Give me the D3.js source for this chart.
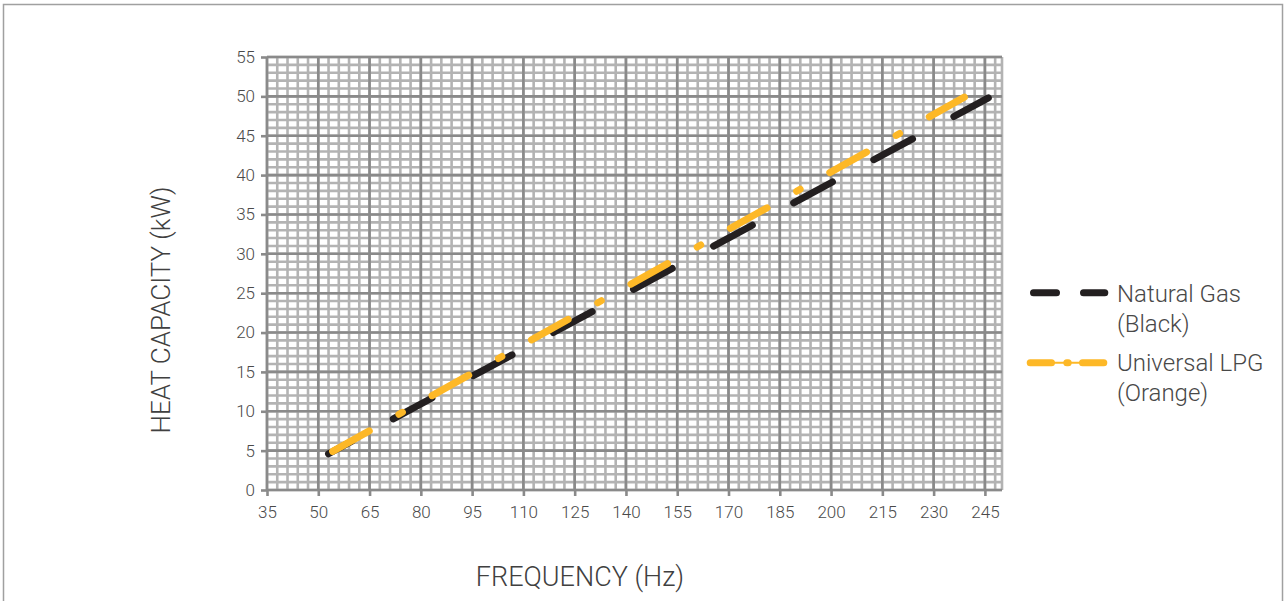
<!DOCTYPE html>
<html>
<head>
<meta charset="utf-8">
<script src="https://cdn.jsdelivr.net/npm/d3@7"></script>
<style>
  body { margin: 0; background: #fff; }
  text { font-family: Roboto, 'Noto Sans', sans-serif; }
</style>
</head>
<body>
<svg id="chart" width="1286" height="601"></svg>
<script>
// tick labels
const freqTicks = [35, 50, 65, 80, 95, 110, 125, 140, 155, 170, 185, 200, 215, 230, 245]
const capTicks = [0, 5, 10, 15, 20, 25, 30, 35, 40, 45, 50, 55]

// series (frequency Hz -> heat capacity kW)
const seriesNames = ['Natural Gas', 'Universal LPG']
const seriesNotes = ['(Black)', '(Orange)']
const gasFreq = [53, 246]
const gasCap = [4.6, 49.8]
const lpgFreq = [54.2, 239]
const lpgCap = [4.9, 49.9]

let svg = d3.select('#chart')
let plotLeft = 267, plotRight = 1002, plotTop = 57, plotBottom = 490

let xScale = d3.scaleLinear().domain([35, 250]).range([plotLeft, plotRight])
let yScale = d3.scaleLinear().domain([0, 55]).range([plotBottom, plotTop])

//outer frame
svg.append('rect')
    .attr('x', 3.5).attr('y', 4.5)
    .attr('width', 1279).attr('height', 640)
    .attr('fill', 'none')
    .attr('stroke', '#a0a0a0')
    .attr('stroke-width', 1.5)

//grid: minor lines first, major on top
let grid = svg.append('g')
let minorX = d3.range(35, 250, 3).concat([250])
let minorY = d3.range(0, 56, 1)

grid.selectAll('.vminor').data(minorX).enter().append('line')
    .attr('x1', d => xScale(d)).attr('x2', d => xScale(d))
    .attr('y1', yScale(0)).attr('y2', yScale(55))
    .attr('stroke', '#b3b3b3').attr('stroke-width', 2.6)
grid.selectAll('.hminor').data(minorY).enter().append('line')
    .attr('y1', d => yScale(d)).attr('y2', d => yScale(d))
    .attr('x1', xScale(35)).attr('x2', xScale(250))
    .attr('stroke', '#b3b3b3').attr('stroke-width', 2.6)
grid.selectAll('.vmajor').data(freqTicks).enter().append('line')
    .attr('x1', d => xScale(d)).attr('x2', d => xScale(d))
    .attr('y1', yScale(0)).attr('y2', yScale(55))
    .attr('stroke', '#8a8a8a').attr('stroke-width', 2.6)
grid.selectAll('.hmajor').data(capTicks).enter().append('line')
    .attr('y1', d => yScale(d)).attr('y2', d => yScale(d))
    .attr('x1', xScale(35)).attr('x2', xScale(250))
    .attr('stroke', '#8a8a8a').attr('stroke-width', 2.6)

//axes
let yAxis = d3.axisLeft(yScale).tickValues(capTicks).tickSize(6).tickPadding(6)
svg.append('g').attr('transform', `translate(${plotLeft},0)`).call(yAxis)
let xAxis = d3.axisBottom(xScale).tickValues(freqTicks).tickSize(6).tickPadding(10)
svg.append('g').attr('transform', `translate(0,${plotBottom})`).call(xAxis)

svg.selectAll('.domain').remove()
svg.selectAll('.tick line').attr('stroke', '#8a8a8a').attr('stroke-width', 2.6)
svg.selectAll('.tick text')
    .attr('fill', '#4a4a4a')
    .style('font-size', '17px')
    .style('font-weight', 300)

//axis titles
svg.append('text')
    .attr('x', 580).attr('y', 586)
    .attr('text-anchor', 'middle')
    .attr('fill', '#404040')
    .style('font-size', '27px').style('font-weight', 300)
    .text('FREQUENCY (Hz)')
svg.append('text')
    .attr('transform', 'translate(170,310) rotate(-90)')
    .attr('text-anchor', 'middle')
    .attr('fill', '#404040')
    .style('font-size', '26px').style('font-weight', 300)
    .text('HEAT CAPACITY (kW)')

//lines
let gasData = gasFreq.map((f, i) => ({f: f, c: gasCap[i]}))
let lpgData = lpgFreq.map((f, i) => ({f: f, c: lpgCap[i]}))
let line = d3.line().x(d => xScale(d.f)).y(d => yScale(d.c))

svg.append('path')
    .attr('d', line(gasData))
    .attr('fill', 'none')
    .attr('stroke', '#231f20')
    .attr('stroke-width', 7)
    .attr('stroke-linecap', 'round')
    .attr('stroke-dasharray', '44 47')
    .attr('stroke-dashoffset', 17.5)

svg.append('path')
    .attr('d', line(lpgData))
    .attr('fill', 'none')
    .attr('stroke', '#fdb827')
    .attr('stroke-width', 7)
    .attr('stroke-linecap', 'round')
    .attr('stroke-dasharray', '42 34 4 34')

//legend
let legend = svg.append('g')
legend.append('line')
    .attr('x1', 1033.5).attr('x2', 1104.8).attr('y1', 292.7).attr('y2', 292.7)
    .attr('stroke', '#231f20').attr('stroke-width', 7)
    .attr('stroke-linecap', 'round')
    .attr('stroke-dasharray', '23 27')
legend.append('line')
    .attr('x1', 1030).attr('x2', 1104).attr('y1', 362.7).attr('y2', 362.7)
    .attr('stroke', '#fdb827').attr('stroke-width', 2)
legend.append('line')
    .attr('x1', 1030.2).attr('x2', 1103.8).attr('y1', 362.7).attr('y2', 362.7)
    .attr('stroke', '#fdb827').attr('stroke-width', 7)
    .attr('stroke-linecap', 'round')
    .attr('stroke-dasharray', '21.3 15.3 1.4 14.3')

let legendY = [302, 371]
seriesNames.forEach(function (name, i) {
    let t = legend.append('text')
        .attr('x', 1117).attr('y', legendY[i])
        .attr('fill', '#484848')
        .style('font-size', '24px').style('font-weight', 300)
    t.append('tspan').attr('x', 1117).text(name)
    t.append('tspan').attr('x', 1117).attr('dy', 30).text(seriesNotes[i])
})
</script>
</body>
</html>
